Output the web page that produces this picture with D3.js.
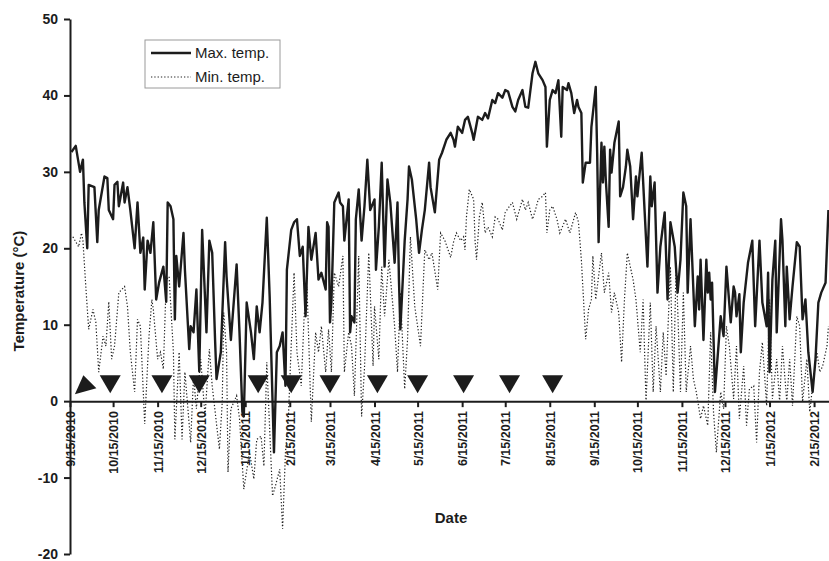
<!DOCTYPE html>
<html>
<head>
<meta charset="utf-8">
<script src="https://cdn.jsdelivr.net/npm/d3@7"></script>
<style>
  html, body { margin: 0; padding: 0; background: #fff; }
  svg { display: block; font-family: "Liberation Sans", Arial, Helvetica, sans-serif; }
</style>
</head>
<body>
<svg id="chart" width="829" height="561"></svg>
<script>
// ---- data (days since 9/15/2010, values in °C) ----
const startDate = "9/15/2010";
const maxDay = [1,4,7,9,10,12,13,17,19,20,24,26,27,30,31,33,34,37,38,40,42,45,47,49,51,52,54,56,58,60,62,65,67,68,70,72,73,74,76,79,80,83,84,86,88,90,92,95,97,99,101,102,105,108,109,112,116,118,120,121,123,126,128,130,132,134,137,139,142,144,146,148,150,151,154,156,158,160,162,164,166,168,171,173,175,178,179,180,181,182,184,187,188,190,191,194,195,196,198,199,201,203,205,207,209,212,213,215,217,219,221,223,226,228,229,230,233,235,236,238,241,243,245,247,250,251,254,257,259,262,265,267,268,270,273,275,277,280,281,284,287,289,291,294,296,298,301,303,305,308,310,312,315,317,319,322,324,326,329,331,332,334,336,338,340,342,343,346,347,349,351,353,354,356,357,359,362,363,366,367,368,370,371,372,373,375,376,377,379,382,383,385,387,388,390,392,394,395,398,400,402,404,405,407,409,411,414,416,418,421,423,425,427,429,430,432,435,437,438,439,441,443,444,445,446,447,449,453,455,457,460,462,463,464,466,467,469,472,475,477,480,482,485,486,487,489,491,492,495,496,498,499,501,503,506,508,510,512,514,517,519,521,523,526,528];
const maxTemp = [32.6,33.4,30,31.6,26,20,28.3,28,20.8,25,29.4,29.2,25,23.8,28.3,28.7,25.5,28.6,26,28,25,20,26,19.4,21.4,14.6,21,19.4,23.4,13.3,15.5,17.6,13,26,25.5,23.8,10.7,19,15,22,17.2,6.8,9.8,9,14.6,3.9,22.4,9,21,19.4,8,2.9,6.4,20.8,16.3,8,17.9,9,-1.4,-2,12.9,9,5.5,12.4,9,12.9,24,13.7,-6.7,6.4,7.2,9,2,17.2,22.4,23.4,23.8,19,20.2,11.1,22.8,18.5,22,15.9,16.8,14.6,23.4,22.8,10.3,13,26,27.3,26,25.5,21,26.4,9,11.1,10.3,23.8,27.7,21,25.5,31.6,25,26.4,17.2,22.8,31.2,17.6,29,26,18.1,26,15.9,9.4,21,26.4,30.7,29,23.8,19.4,22.4,25,31.2,28,24.7,31.6,32.5,34.2,35.1,34.2,33.3,35.9,35.1,36.8,37.2,35.1,34.2,37.2,36.8,37.7,37,39.4,39,40.3,39.7,40.7,40.5,38.5,37.9,39.4,40.7,38.5,38.4,42.9,44.4,42.9,42,41.1,33.3,39.4,40.7,40.3,42,34.6,41.1,40.7,41.6,40.3,37.7,39.4,38.5,37.7,28.6,31.2,31.2,35.9,41.1,32.5,20.8,33.8,28.6,33.3,29,22.8,32.9,29.9,33.8,36.6,26.8,28,30.7,32.9,30.7,23.8,29.4,26.8,32.5,25,17.6,29.4,25.5,28.6,14.2,20.2,24.7,13.3,23.4,20.2,14.2,18.5,27.3,25.5,14.2,23.8,9.8,16.3,12,18.5,8,18.5,14.2,16.8,13.3,15.5,1.2,11.1,8.5,17.6,10.3,15,14.2,11.1,14,6.4,12.9,18.1,21,9.8,21,12.9,9.8,16.8,3.8,15.9,21,9,23.8,21,9.8,17.6,10.7,15,20.8,20.2,10.7,13.3,6.4,1.2,5.5,12.9,14.2,15.5,25];

const minDay = [2,6,8,9,11,13,16,18,20,23,25,27,29,31,34,38,40,42,45,47,49,52,55,57,58,61,63,65,67,69,72,73,76,78,80,84,86,88,91,94,97,99,104,106,107,109,110,112,116,118,121,125,128,130,133,135,137,141,143,146,148,150,152,156,158,161,163,165,168,171,173,175,178,180,182,184,187,190,191,194,196,198,201,203,205,208,211,212,215,217,219,222,226,228,230,233,235,237,240,244,247,250,252,256,258,261,265,267,269,272,274,275,276,278,281,282,283,285,287,289,291,294,296,298,301,303,306,308,311,315,317,319,322,324,326,329,331,332,334,336,339,341,345,348,352,354,356,359,361,363,364,366,370,372,375,377,379,382,384,386,388,392,394,397,399,401,404,406,408,411,413,415,418,420,422,425,427,429,432,434,436,439,441,444,446,448,450,453,455,457,459,462,464,466,469,471,473,476,478,480,482,485,487,489,492,494,496,499,501,503,506,508,510,513,515,517,520,522,524,527,528];
const minTemp = [21.5,20.2,22,21,15,9.4,12,10.3,3.8,8.5,7.2,13,5.5,7.2,14.2,15,12.4,6.4,1.2,10.7,9.8,-3,8.5,13.3,12,5.5,6.4,4.2,15.9,16.3,6.4,-5,6.4,-5,3.8,-5.4,3.3,-1,5.5,-2,6.8,2,-6.3,-0.1,11.6,6.4,-9.3,-1,0.7,-2.3,-11.5,-6.7,-10.2,-5,-4.6,-8.5,5.1,-12.4,-11.1,-8.9,-16.7,-6.7,-2.3,16.8,6.4,2,11.1,15,-2.7,9,6.4,9.8,3.8,9.4,3.8,16.8,15,19,3.8,9,7.2,0.7,19,-2,4.2,19.4,4.6,12.4,5.5,17.6,11.1,18.5,9.8,3.8,14.2,1.6,8.1,21.5,12.4,7.2,19.8,18.5,19.4,14.6,22,21,18.8,20.8,22,21,21.5,19.8,24.1,27.7,26.4,21,18.5,24.1,26,22,22.8,21.5,24.1,23.8,22.4,24.7,25.5,26,23.8,26.4,25,26,23.8,25,26.4,26.8,27.3,22,25,25.5,23.8,22,23.8,22,24.7,23.4,18.5,8.1,12,13.3,19,13.3,19.4,14.2,16.8,11.6,14.2,11.6,5.1,13.3,19.4,15.9,13.3,6.4,13.3,-0.1,12.9,1.2,9.8,1.2,9,3.3,17.6,1.2,18.1,1.2,14.2,1.2,7.2,2.9,1.2,-2.3,-0.6,-3.2,9,-1.4,-6.7,1.2,-1,9.8,7.2,0.3,7.2,-2.3,4.6,-3.2,1.6,2,-5.4,3.8,7.7,-0.6,13.3,0.3,5.5,-0.1,7.2,-0.1,5.5,-0.6,11.1,9.8,-0.1,5.5,-1.4,2,6.4,3.8,4.6,7.2,9.8];

const markerDays = [28,64,90,131,154,181,214,242,274,306,336];
const firstMarkerDay = 10;

const xTickLabels = ["9/15/2010","10/15/2010","11/15/2010","12/15/2010","1/15/2011","2/15/2011","3/15/2011","4/15/2011","5/15/2011","6/15/2011","7/15/2011","8/15/2011","9/15/2011","10/15/2011","11/15/2011","12/15/2011","1/15/2012","2/15/2012"];
const yTicks = [-20,-10,0,10,20,30,40,50];
const seriesNames = ["Max. temp.","Min. temp."];
const xTitle = "Date";
const yTitle = "Temperature (°C)";

// ---- drawing ----
const parse = d3.utcParse("%m/%d/%Y");
const t0 = parse(startDate);
const dayToDate = d => new Date(t0.getTime() + d * 86400000);

const svg = d3.select("#chart");
const padL = 70, padR = 829, padT = 19, padB = 554;

const x = d3.scaleUtc().domain([t0, dayToDate(528.4)]).range([padL, padR]);
const y = d3.scaleLinear().domain([-20, 50]).range([padB, padT]);

const ink = "#1c1c1c";

// Y axis
const yAxis = d3.axisLeft(y).tickValues(yTicks).tickSize(6).tickSizeOuter(0).tickFormat(d => String(d));
const gy = svg.append("g").attr("transform", `translate(${padL},0)`).call(yAxis);
gy.select(".domain").attr("stroke", ink).attr("stroke-width", 2);
gy.selectAll(".tick line").attr("stroke", ink).attr("stroke-width", 2);
gy.selectAll(".tick text").attr("font-size", 14).attr("font-weight", "bold").attr("fill", ink)
  .attr("font-family", "Liberation Sans, Arial, sans-serif").attr("x", -12);

// X axis at y=0
const tickDates = xTickLabels.map(parse);
const xAxis = d3.axisBottom(x).tickValues(tickDates).tickSize(6).tickSizeOuter(0).tickFormat((d, i) => xTickLabels[i]);
const gx = svg.append("g").attr("transform", `translate(0,${y(0)})`).call(xAxis);
gx.select(".domain").attr("stroke", ink).attr("stroke-width", 2);
gx.selectAll(".tick line").attr("stroke", ink).attr("stroke-width", 2);
gx.selectAll(".tick text")
  .attr("font-size", 12.5).attr("font-weight", "bold").attr("fill", ink)
  .attr("font-family", "Liberation Sans, Arial, sans-serif")
  .attr("text-anchor", "end").attr("x", 0).attr("y", 0).attr("dy", "0.36em")
  .attr("transform", "translate(0,10) rotate(-90)");

// Lines
const maxData = maxDay.map((d, i) => ({ date: dayToDate(d), v: maxTemp[i] }));
const minData = minDay.map((d, i) => ({ date: dayToDate(d), v: minTemp[i] }));
const line = d3.line().defined(d => d.v !== undefined).x(d => x(d.date)).y(d => y(d.v));

svg.append("path").datum(minData).attr("d", line)
  .attr("fill", "none").attr("stroke", "#222").attr("stroke-width", 1.2)
  .attr("stroke-dasharray", "1.3,2");
svg.append("path").datum(maxData).attr("d", line)
  .attr("fill", "none").attr("stroke", ink).attr("stroke-width", 2.4).attr("stroke-linejoin", "round");

// Markers
const triTop = y(0) - 26, triBot = y(0) - 8;
svg.append("g").selectAll("path").data(markerDays).join("path")
  .attr("d", d => {
    const cx = x(dayToDate(d));
    return `M${cx - 10.5},${triTop} L${cx + 10.5},${triTop} L${cx},${triBot} Z`;
  })
  .attr("fill", ink);
{
  const cx = x(dayToDate(firstMarkerDay));
  svg.append("path")
    .attr("d", `M${cx - 9.5},${triBot + 1} L${cx + 12},${triBot - 5} L${cx - 1},${triTop} Z`)
    .attr("fill", ink);
}

// Legend
const lg = svg.append("g");
lg.append("rect").attr("x", 145).attr("y", 40).attr("width", 135).attr("height", 48)
  .attr("fill", "#fff").attr("stroke", "#9a9a9a").attr("stroke-width", 1);
lg.append("line").attr("x1", 151).attr("x2", 191).attr("y1", 53).attr("y2", 53)
  .attr("stroke", ink).attr("stroke-width", 2.4);
lg.append("line").attr("x1", 151).attr("x2", 191).attr("y1", 77).attr("y2", 77)
  .attr("stroke", "#222").attr("stroke-width", 1.2).attr("stroke-dasharray", "1.3,2");
lg.selectAll("text").data(seriesNames).join("text")
  .attr("x", 195).attr("y", (d, i) => 58 + i * 24)
  .attr("font-size", 15).attr("fill", ink).text(d => d);

// Titles
svg.append("text").attr("x", 451).attr("y", 523).attr("text-anchor", "middle")
  .attr("font-size", 15).attr("font-weight", "bold").attr("fill", ink).text(xTitle);
svg.append("text").attr("transform", "translate(24,291) rotate(-90)").attr("text-anchor", "middle")
  .attr("font-size", 15).attr("font-weight", "bold").attr("fill", ink).text(yTitle);
</script>
</body>
</html>
